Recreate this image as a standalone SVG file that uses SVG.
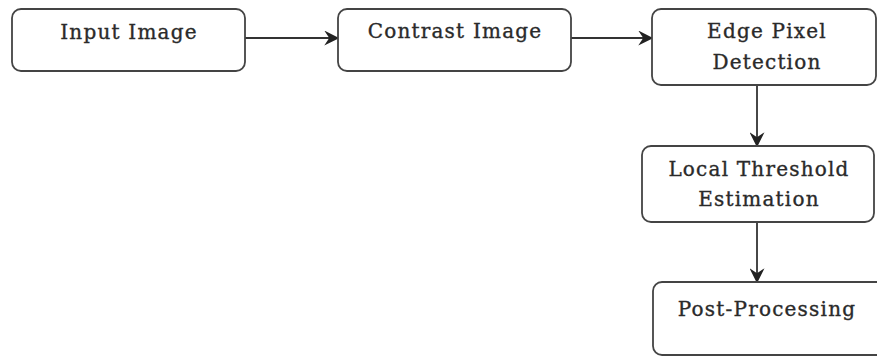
<svg xmlns="http://www.w3.org/2000/svg" width="877" height="356" viewBox="0 0 877 356">
<defs>
<marker id="arr" viewBox="0 0 12 12" refX="11" refY="6" markerWidth="15" markerHeight="15" markerUnits="userSpaceOnUse" orient="auto">
<path d="M0,0 L12,6 L0,12 L4,6 Z" fill="#222"/>
</marker>
</defs>
<style>
.box{fill:#fff;stroke:#444;stroke-width:1.8}
.lbl{font-family:"DejaVu Serif","Liberation Serif",serif;font-size:20px;letter-spacing:1.2px;fill:#2a2a2a;stroke:#2a2a2a;stroke-width:0.35;text-anchor:middle}
.con{stroke:#333;stroke-width:1.8;fill:none;marker-end:url(#arr)}
</style>
<rect width="877" height="356" fill="#fff"/>
<g id="connectors">
<line class="con" x1="245" y1="38" x2="338" y2="38"/>
<line class="con" x1="571" y1="38" x2="652" y2="38"/>
<line class="con" x1="757" y1="85" x2="757" y2="146"/>
<line class="con" x1="757" y1="222" x2="757" y2="282"/>
</g>
<g id="n1"><rect class="box" x="12" y="9" width="233" height="62" rx="9"/><text class="lbl" x="129" y="39">Input Image</text></g>
<g id="n2"><rect class="box" x="338" y="9" width="233" height="62" rx="9"/><text class="lbl" x="455" y="38">Contrast Image</text></g>
<g id="n3"><rect class="box" x="652" y="9" width="224" height="76" rx="9"/><text class="lbl" x="767" y="38">Edge Pixel</text><text class="lbl" x="767" y="69">Detection</text></g>
<g id="n4"><rect class="box" x="642" y="146" width="232" height="76" rx="9"/><text class="lbl" x="759" y="176">Local Threshold</text><text class="lbl" x="759" y="206">Estimation</text></g>
<g id="n5"><rect class="box" x="653" y="282" width="235" height="73" rx="9"/><text class="lbl" x="767" y="316">Post-Processing</text></g>
</svg>
